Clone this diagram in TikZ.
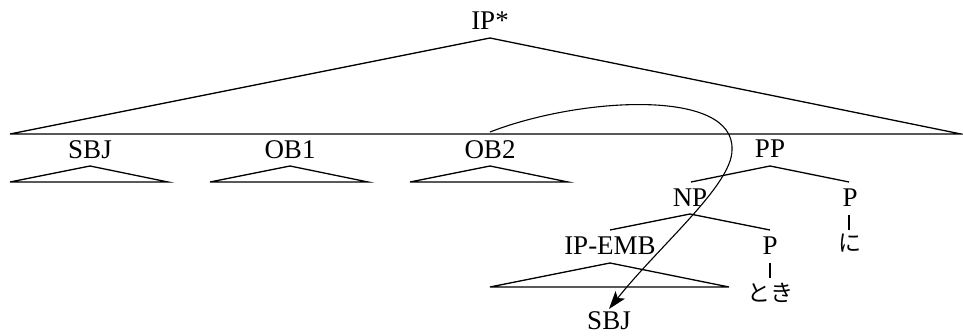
\documentclass[tikz,border=0pt]{standalone}
\usepackage{fontspec}
\setmainfont{Liberation Serif}
\newfontfamily\jpfont{Noto Sans CJK JP}
\usetikzlibrary{arrows.meta}
\begin{document}
\begin{tikzpicture}[x=1pt,y=-1pt,
  lbl/.style={anchor=base,inner sep=0pt,font=\fontsize{27}{32}\selectfont},
  jp/.style={anchor=base,inner sep=0pt,font=\jpfont\fontsize{23}{27}\selectfont},
  branch/.style={line width=1.3pt,line join=miter},
  movement/.style={line width=1.1pt,-{Stealth[length=18pt,width=12pt,inset=4pt]}}]
\useasboundingbox (0,0) rectangle (963,336);

% labels
\node[lbl] (ip)    at (490,30)  {IP*};
\node[lbl] (sbj)   at (90,159)  {SBJ};
\node[lbl] (ob1)   at (290,159) {OB1};
\node[lbl] (ob2)   at (490,159) {OB2};
\node[lbl] (pp)    at (770,158) {PP};
\node[lbl] (np)    at (690,207) {NP};
\node[lbl] (pni)   at (850,207) {P};
\node[lbl] (ipemb) at (610,255) {IP-EMB};
\node[lbl] (ptoki) at (770,255) {P};
\node[lbl] (sbj2)  at (609,330) {SBJ};
\node[jp]  (ni)    at (850,252) {に};
\node[jp]  (toki)  at (770,302) {とき};

% attachment points of the branches
\coordinate (ipTop)  at (490,38);
\coordinate (ipL)    at (10,134);
\coordinate (ipR)    at (961,134);
\coordinate (sbjTop) at (90,166);
\coordinate (ob1Top) at (290,166);
\coordinate (ob2Top) at (490,166);
\coordinate (ppTop)  at (770,166);
\coordinate (npTop)  at (690,214);
\coordinate (embTop) at (610,263);

% top triangle
\draw[branch] (ipL) -- (ipTop) -- (ipR) -- cycle;

% roofs for the arguments
\draw[branch] (10,182) -- (sbjTop) -- (168,182) -- cycle;
\draw[branch] (210,182) -- (ob1Top) -- (368,182) -- cycle;
\draw[branch] (410,182) -- (ob2Top) -- (568,182) -- cycle;

% PP and NP branches
\draw[branch] (691,182) -- (ppTop) -- (849,182);
\draw[branch] (610,230) -- (npTop) -- (770,230);

% embedded clause roof
\draw[branch] (490,287) -- (embTop) -- (729,287) -- cycle;

% lexical links
\draw[line width=1.2pt] (849,215) -- (849,230);
\draw[line width=1.2pt] (770,263) -- (770,278);

% movement arrow
\coordinate (start) at (490,132);
\coordinate (tip) at (609,309);
\draw[movement] (start) .. controls (580,97) and (735,88) .. (732,150)
  .. controls (732,185) and (660,245) .. (tip);
\end{tikzpicture}
\end{document}
